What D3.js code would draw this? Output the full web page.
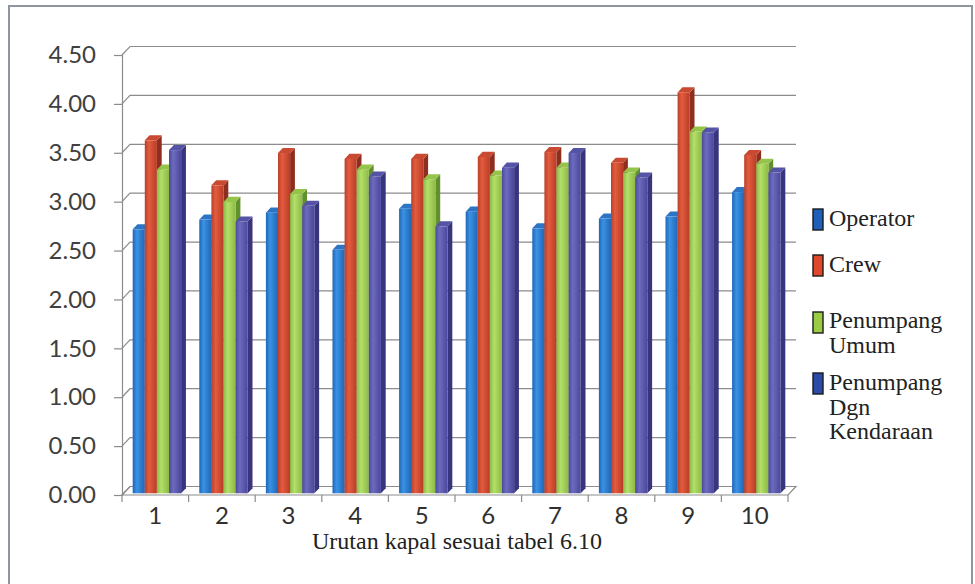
<!DOCTYPE html>
<html>
<head>
<meta charset="utf-8">
<script src="https://cdn.jsdelivr.net/npm/d3@7"></script>
<style>
  html, body { margin: 0; padding: 0; background: #ffffff; }
  svg { display: block; }
  .serif { font-family: "Liberation Serif", "Times New Roman", serif; }
  .sans { font-family: Lato, "Open Sans", sans-serif; }
</style>
</head>
<body>
<svg id="chart" width="975" height="584"></svg>
<script>
// Ship order (x categories)
const categories = ["1", "2", "3", "4", "5", "6", "7", "8", "9", "10"];

// Mean scores per respondent group
const operator   = [2.70, 2.80, 2.87, 2.49, 2.91, 2.88, 2.71, 2.81, 2.83, 3.08];
const crew       = [3.61, 3.15, 3.48, 3.42, 3.42, 3.44, 3.49, 3.38, 4.10, 3.46];
const umum       = [3.31, 2.98, 3.06, 3.31, 3.21, 3.25, 3.33, 3.28, 3.70, 3.37];
const kendaraan  = [3.51, 2.78, 2.94, 3.24, 2.73, 3.33, 3.48, 3.23, 3.69, 3.28];

const seriesNames = ["Operator", "Crew", "Penumpang Umum", "Penumpang Dgn Kendaraan"];
const legendLines = [["Operator"], ["Crew"], ["Penumpang", "Umum"], ["Penumpang", "Dgn", "Kendaraan"]];
const yTicks = [0, 0.5, 1, 1.5, 2, 2.5, 3, 3.5, 4, 4.5];
const xTitle = "Urutan kapal sesuai tabel 6.10";

const seriesValues = [operator, crew, umum, kendaraan];

// face colours: front (left/mid/right of gradient), side, top, legend swatch
const palette = [
  { l: "#1f66b8", m: "#3a92e4", r: "#2266b4", side: "#1a5397", top: "#2d74c4", key: "#1f5fb8" },
  { l: "#bb3f2a", m: "#e35c3e", r: "#b83c27", side: "#8f2e1f", top: "#c94a31", key: "#e0482c" },
  { l: "#8abb46", m: "#b3df6a", r: "#8cba43", side: "#62902d", top: "#95c44b", key: "#9acb45" },
  { l: "#4c4a9c", m: "#6d6bbd", r: "#4a479c", side: "#37357d", top: "#5553a6", key: "#2c4aa8" }
];

const svg = d3.select("#chart");

// Oblique depth projection of the 3-D floor / back wall
const DX = 8, DY = -8.5;
const frontL = 122, frontR = 788, baseY = 495, topY = 55;

const x = d3.scaleBand().domain(categories).range([frontL, frontR]).paddingInner(0).paddingOuter(0);
const y = d3.scaleLinear().domain([0, 4.5]).range([baseY, topY]);

const P = (px, v, d) => [px + DX * d, y(v) + DY * d];

const defs = svg.append("defs");
palette.forEach((c, i) => {
  const g = defs.append("linearGradient").attr("id", "grad" + i)
    .attr("x1", "0").attr("x2", "1").attr("y1", "0").attr("y2", "0");
  g.append("stop").attr("offset", "0%").attr("stop-color", c.l);
  g.append("stop").attr("offset", "35%").attr("stop-color", c.m);
  g.append("stop").attr("offset", "100%").attr("stop-color", c.r);
});

// outer frame
svg.append("rect").attr("x", 9).attr("y", 6).attr("width", 963).attr("height", 600)
  .attr("fill", "none").attr("stroke", "#8f959e").attr("stroke-width", 2);

const gridColor = "#8c8c8c";
const grid = svg.append("g").attr("stroke", gridColor).attr("stroke-width", 1.2).attr("fill", "none");

// back-wall gridlines with slanted connectors to the front axis
yTicks.forEach(t => {
  const a = P(frontL, t, 0), b = P(frontL, t, 1), c = P(frontR, t, 1);
  grid.append("path").attr("d", `M${a[0]},${a[1]}L${b[0]},${b[1]}L${c[0]},${c[1]}`);
});

// floor
{
  const a = P(frontL, 0, 0), b = P(frontR, 0, 0), c = P(frontR, 0, 1), d = P(frontL, 0, 1);
  grid.append("path").attr("d", `M${a[0]},${a[1]}L${b[0]},${b[1]}L${c[0]},${c[1]}L${d[0]},${d[1]}Z`);
}

// y axis (front)
const yAxis = d3.axisLeft(y).tickValues(yTicks).tickFormat(d3.format(".2f")).tickSize(8).tickPadding(18);
const yG = svg.append("g").attr("transform", `translate(${frontL},0)`).call(yAxis);
yG.attr("font-family", null).attr("font-size", null);
yG.select(".domain").attr("stroke", gridColor).attr("stroke-width", 1.2);
yG.selectAll(".tick line").attr("stroke", gridColor).attr("stroke-width", 1.2);
yG.selectAll(".tick text").attr("class", "sans")
  .attr("font-size", 24).attr("fill", "#404040");

// x axis ticks at category boundaries
const xG = svg.append("g").attr("stroke", gridColor).attr("stroke-width", 1.2);
categories.forEach((c, i) => {
  const bx = x(c);
  xG.append("line").attr("x1", bx).attr("x2", bx).attr("y1", baseY).attr("y2", baseY + 7);
});
xG.append("line").attr("x1", frontR).attr("x2", frontR).attr("y1", baseY).attr("y2", baseY + 7);

// category labels
svg.append("g").selectAll("text").data(categories).join("text")
  .attr("class", "sans")
  .attr("x", d => x(d) + x.bandwidth() / 2)
  .attr("y", 524)
  .attr("text-anchor", "middle")
  .attr("font-size", 24).attr("fill", "#303030")
  .text(d => d);

// axis title
svg.append("text").attr("class", "serif").attr("x", 457).attr("y", 549).attr("text-anchor", "middle")
  .attr("font-size", 24).attr("fill", "#222").text(xTitle);

// 3-D columns: gap width 150%, bars sit in the middle of the depth
const bw = x.bandwidth() / 5.5;
const dF = 0.2, dB = 0.8;
const bars = svg.append("g");
const poly = pts => "M" + pts.map(p => p.join(",")).join("L") + "Z";
categories.forEach((c, i) => {
  seriesValues.forEach((vals, j) => {
    const v = vals[i];
    const xl = x(c) + 0.75 * bw + j * bw, xr = xl + bw;
    const g = bars.append("g");
    // side face
    g.append("path").attr("fill", palette[j].side)
      .attr("d", poly([P(xr, 0, dF), P(xr, v, dF), P(xr, v, dB), P(xr, 0, dB)]));
    // top face
    g.append("path").attr("fill", palette[j].top)
      .attr("d", poly([P(xl, v, dF), P(xr, v, dF), P(xr, v, dB), P(xl, v, dB)]));
    // front face
    const f0 = P(xl, v, dF), f1 = P(xr, 0, dF);
    g.append("rect").attr("x", f0[0]).attr("y", f0[1])
      .attr("width", f1[0] - f0[0]).attr("height", f1[1] - f0[1])
      .attr("fill", `url(#grad${j})`);
  });
});

// legend
const leg = svg.append("g");
const legTop = [209, 255, 311, 373];
const lineH = 24.5;
legendLines.forEach((lines, j) => {
  const top = legTop[j];
  const swY = lines.length === 2 ? top + 1 : top;
  leg.append("rect").attr("x", 813).attr("y", swY).attr("width", 10).attr("height", 21)
    .attr("fill", palette[j].key).attr("stroke", "#1a1a1a").attr("stroke-width", 1.4);
  lines.forEach((t, k) => {
    leg.append("text").attr("class", "serif").attr("x", 829).attr("y", top + 17 + k * lineH)
      .attr("font-size", 24).attr("fill", "#222").text(t);
  });
});
</script>
</body>
</html>
